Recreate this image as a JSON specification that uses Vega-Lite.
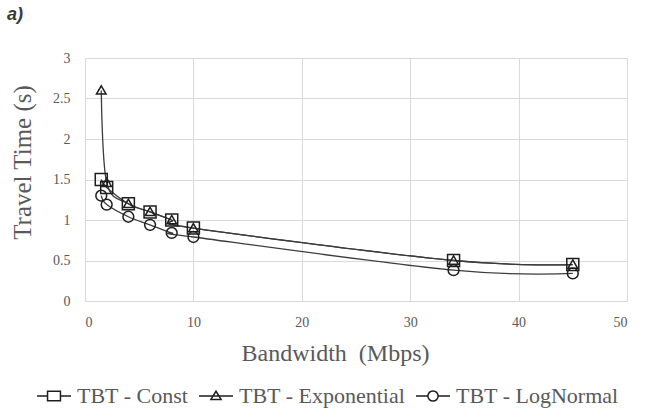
{
  "$schema": "https://vega.github.io/schema/vega-lite/v6.json",
  "autosize": {"type": "none"},
  "padding": {"left": 85, "top": 58, "right": 22, "bottom": 118},
  "width": 542,
  "height": 243,
  "background": "white",
  "title": {
    "text": "a)",
    "anchor": "start",
    "frame": "group",
    "orient": "top",
    "dx": -78,
    "offset": 27,
    "font": "Liberation Sans",
    "fontSize": 18,
    "fontWeight": "bold",
    "fontStyle": "italic",
    "color": "#3a3a3a"
  },
  "config": {
    "view": {"stroke": null},
    "axis": {
      "grid": true,
      "gridColor": "#d9d9d9",
      "gridWidth": 1,
      "domain": false,
      "ticks": false,
      "labelFont": "Liberation Serif",
      "labelFontSize": 14,
      "labelColor": "#595959",
      "titleFont": "Liberation Serif",
      "titleFontSize": 24,
      "titleFontWeight": "normal",
      "titleColor": "#595959"
    }
  },
  "data": {
    "values": [
      {"series": "TBT - Const", "bw": 1.5, "t": 1.5},
      {"series": "TBT - Const", "bw": 2, "t": 1.4},
      {"series": "TBT - Const", "bw": 4, "t": 1.2},
      {"series": "TBT - Const", "bw": 6, "t": 1.1},
      {"series": "TBT - Const", "bw": 8, "t": 1.0},
      {"series": "TBT - Const", "bw": 10, "t": 0.9},
      {"series": "TBT - Const", "bw": 34, "t": 0.5},
      {"series": "TBT - Const", "bw": 45, "t": 0.45},
      {"series": "TBT - Exponential", "bw": 1.5, "t": 2.6},
      {"series": "TBT - Exponential", "bw": 2, "t": 1.46},
      {"series": "TBT - Exponential", "bw": 4, "t": 1.2},
      {"series": "TBT - Exponential", "bw": 6, "t": 1.1},
      {"series": "TBT - Exponential", "bw": 8, "t": 1.0},
      {"series": "TBT - Exponential", "bw": 10, "t": 0.9},
      {"series": "TBT - Exponential", "bw": 34, "t": 0.5},
      {"series": "TBT - Exponential", "bw": 45, "t": 0.45},
      {"series": "TBT - LogNormal", "bw": 1.5, "t": 1.3},
      {"series": "TBT - LogNormal", "bw": 2, "t": 1.19},
      {"series": "TBT - LogNormal", "bw": 4, "t": 1.04},
      {"series": "TBT - LogNormal", "bw": 6, "t": 0.94},
      {"series": "TBT - LogNormal", "bw": 8, "t": 0.84},
      {"series": "TBT - LogNormal", "bw": 10, "t": 0.79},
      {"series": "TBT - LogNormal", "bw": 34, "t": 0.38},
      {"series": "TBT - LogNormal", "bw": 45, "t": 0.34}
    ]
  },
  "encoding": {
    "x": {
      "field": "bw",
      "type": "quantitative",
      "scale": {"domain": [0, 50], "nice": false, "zero": true},
      "axis": {"values": [0, 10, 20, 30, 40, 50], "labelFont": "Liberation Serif", "labelPadding": 14, "title": "Bandwidth\u00a0 (Mbps)", "titlePadding": 12, "titleX": 250}
    },
    "y": {
      "field": "t",
      "type": "quantitative",
      "scale": {"domain": [0, 3], "nice": false},
      "axis": {"values": [0, 0.5, 1, 1.5, 2, 2.5, 3], "format": "~g", "labelFont": "Liberation Serif", "labelPadding": 15, "title": "Travel Time (s)", "titleFontSize": 25, "titleX": -50, "titleY": 104}
    }
  },
  "layer": [
    {
      "mark": {"type": "line", "interpolate": "cardinal", "color": "#3c3c3c", "strokeWidth": 1.3},
      "encoding": {"detail": {"field": "series"}}
    },
    {
      "mark": {"type": "point", "filled": false, "strokeWidth": 1.5, "color": "#1e1e1e", "opacity": 1, "size": 144},
      "encoding": {
        "shape": {
          "field": "series",
          "type": "nominal",
          "scale": {
            "domain": ["TBT - Const", "TBT - Exponential", "TBT - LogNormal"],
            "range": ["square", "M0,-0.76L0.8,0.62L-0.8,0.62Z", "M0.9,0A0.9,0.9 0 1 1 -0.9,0A0.9,0.9 0 1 1 0.9,0Z"]
          },
          "legend": null
        }
      }
    },
    {
      "mark": {"type": "point", "filled": false, "strokeWidth": 1.5, "color": "#1e1e1e", "opacity": 1, "size": 0},
      "encoding": {
        "shape": {
          "field": "series",
          "type": "nominal",
          "scale": {
            "domain": ["TBT - Const", "TBT - Exponential", "TBT - LogNormal"],
            "range": [
              "M-1,0H-0.38M0.38,0H1M-0.38,-0.28H0.38V0.28H-0.38Z",
              "M-1,0H1M0,-0.28L0.3,0.2H-0.3Z",
              "M-1,0H-0.3M0.3,0H1M0.3,0A0.3,0.3 0 1 1 -0.3,0A0.3,0.3 0 1 1 0.3,0Z"
            ]
          },
          "legend": {
            "title": null,
            "orient": "none",
            "legendX": -49,
            "legendY": 320,
            "padding": 0,
            "direction": "horizontal",
            "columns": 3,
            "columnPadding": 7,
            "symbolSize": 1156,
            "symbolStrokeWidth": 1.5,
            "symbolStrokeColor": "#1e1e1e",
            "symbolFillColor": "transparent",
            "labelFont": "Liberation Serif",
            "labelFontSize": 22,
            "labelColor": "#595959",
            "labelOffset": 5,
            "labelLimit": 400,
            "encode": {"symbols": {"size": {"value": 1156}}}
          }
        }
      }
    }
  ],
  "resolve": {"scale": {"shape": "independent"}, "legend": {"shape": "independent"}}
}
